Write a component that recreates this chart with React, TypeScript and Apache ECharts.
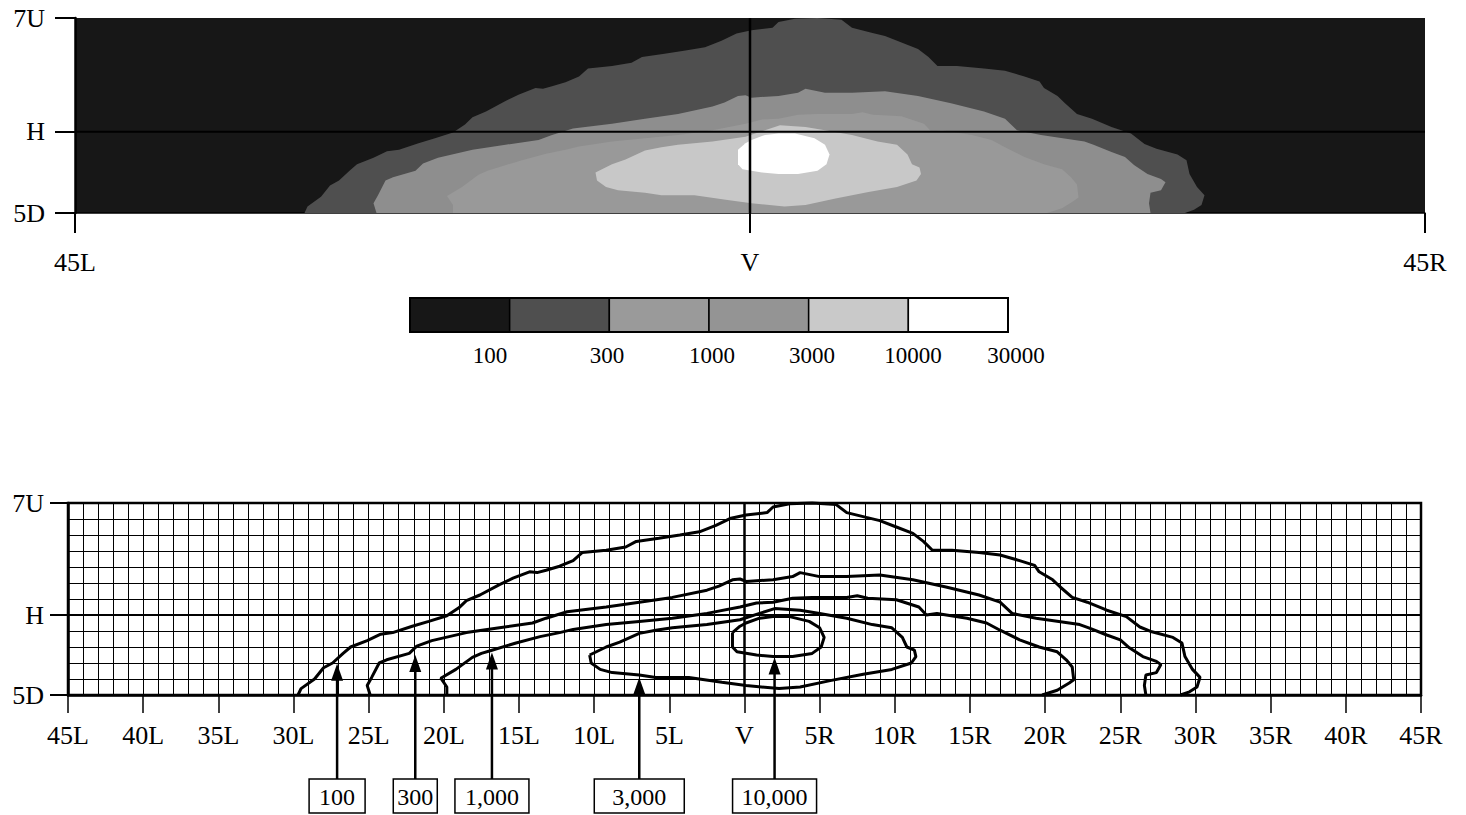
import React, { useEffect, useRef } from 'react';
import * as echarts from 'echarts';

const FONT = 'Liberation Serif';

// Isocandela contours: x in degrees (L negative, R positive), y in degrees (U positive, D negative)
const CONTOUR_100: number[][] = [
  [-29.7, -5], [-29.5, -4.6], [-28.6, -4.0], [-28.0, -3.3], [-27.4, -3.0], [-26.7, -2.4], [-26.2, -2.0],
  [-25.1, -1.6], [-24.2, -1.2], [-23.4, -1.1], [-22.1, -0.7], [-21.0, -0.4], [-19.8, -0.05], [-19.0, 0.45],
  [-18.5, 0.9], [-17.6, 1.25], [-16.3, 1.9], [-15.4, 2.3], [-14.3, 2.7], [-13.8, 2.65], [-13.2, 2.8],
  [-12.3, 3.05], [-11.4, 3.4], [-10.8, 3.9], [-9.2, 4.05], [-7.9, 4.25], [-7.2, 4.6], [-5.7, 4.8],
  [-4.3, 5.0], [-3.0, 5.2], [-1.9, 5.6], [-0.9, 6.05], [0.1, 6.25], [1.5, 6.4], [1.9, 6.75], [3.0, 6.95],
  [4.5, 7.0], [6.1, 6.9], [6.8, 6.4], [8.1, 6.1], [9.0, 5.9], [10.1, 5.5], [11.2, 5.1], [11.9, 4.6],
  [12.5, 4.05], [13.8, 4.05], [15.6, 3.9], [17.0, 3.75], [18.3, 3.4], [19.3, 3.1], [19.6, 2.7], [20.5, 2.2],
  [21.0, 1.75], [21.8, 1.1], [22.8, 0.8], [24.1, 0.3], [25.4, -0.1], [26.3, -0.75], [27.1, -1.05],
  [28.5, -1.4], [29.1, -1.75], [29.3, -2.6], [29.8, -3.4], [30.3, -3.9], [30.1, -4.5], [29.6, -4.8], [29.0, -5],
];
const CONTOUR_300: number[][] = [
  [-24.9, -5], [-25.1, -4.4], [-24.8, -3.9], [-24.3, -3.0], [-23.8, -2.8], [-22.3, -2.4], [-21.8, -1.95],
  [-20.8, -1.6], [-18.5, -1.1], [-16.3, -0.8], [-14.1, -0.5], [-13.2, -0.2], [-11.8, 0.2], [-9.2, 0.5],
  [-7.0, 0.8], [-4.8, 1.1], [-2.5, 1.55], [-1.7, 1.8], [-0.8, 2.2], [-0.3, 2.25], [0.1, 2.1], [1.9, 2.2],
  [3.2, 2.4], [3.7, 2.65], [5.0, 2.4], [6.8, 2.4], [9.0, 2.5], [11.2, 2.2], [13.4, 1.75], [15.6, 1.25],
  [17.0, 0.8], [17.8, 0.1], [19.4, -0.2], [22.3, -0.6], [22.9, -0.8], [24.1, -1.25], [25.0, -1.55],
  [25.6, -2.05], [26.5, -2.6], [27.4, -2.9], [27.7, -3.1], [27.4, -3.6], [26.7, -3.75], [26.6, -4.4], [26.7, -5],
];
const CONTOUR_1000: number[][] = [
  [-19.8, -5], [-19.8, -4.5], [-20.2, -3.95], [-19.2, -3.4], [-18.1, -2.65], [-17.5, -2.4], [-16.8, -2.2],
  [-15.2, -1.75], [-13.6, -1.35], [-12.3, -1.1], [-11.4, -0.9], [-9.2, -0.6], [-7.0, -0.4], [-4.8, -0.2],
  [-2.5, 0.1], [-0.3, 0.5], [0.8, 0.75], [1.9, 0.8], [3.2, 1.05], [4.5, 1.1], [6.8, 1.1], [7.5, 1.2],
  [8.2, 1.05], [10.1, 0.95], [11.6, 0.5], [12.1, 0.0], [12.8, 0.1], [14.8, -0.2], [16.1, -0.5], [17.0, -0.95],
  [18.3, -1.55], [19.6, -2.0], [20.8, -2.3], [21.4, -2.8], [21.8, -3.25], [21.9, -4.05], [21.6, -4.25],
  [20.8, -4.7], [19.8, -5],
];
const CONTOUR_3000: number[][] = [
  [-10.3, -2.5], [-9.2, -2.0], [-8.3, -1.7], [-7.0, -1.15], [-5.9, -0.95], [-4.8, -0.8], [-2.5, -0.6],
  [-0.3, -0.3], [1.0, 0.1], [2.0, 0.4], [3.7, 0.3], [5.0, 0.1], [6.8, -0.2], [8.5, -0.6], [9.8, -0.8],
  [10.5, -1.4], [10.8, -2.0], [11.3, -2.2], [11.4, -2.6], [11.1, -3.0], [9.8, -3.4], [7.9, -3.7],
  [5.7, -4.1], [3.7, -4.5], [2.3, -4.6], [0.1, -4.4], [-1.5, -4.2], [-3.7, -3.9], [-5.9, -3.9],
  [-7.0, -3.75], [-8.8, -3.6], [-9.6, -3.4], [-10.2, -3.0], [-10.3, -2.5],
];
const CONTOUR_10000: number[][] = [
  [-0.8, -1.1], [-0.3, -0.7], [0.1, -0.5], [1.0, -0.2], [1.9, -0.1], [3.0, -0.1], [4.3, -0.4], [5.0, -0.8],
  [5.3, -1.4], [5.1, -2.0], [4.5, -2.4], [3.2, -2.6], [1.9, -2.6], [0.8, -2.5], [-0.5, -2.3], [-0.8, -2.0],
  [-0.8, -1.1],
];

const CONTOURS = [CONTOUR_100, CONTOUR_300, CONTOUR_1000, CONTOUR_3000, CONTOUR_10000];
const CONTOUR_LABELS = ['100', '300', '1,000', '3,000', '10,000'];

// Arrow callouts (x position, arrow tip y) in degrees
const ARROW_X = [-27.1, -21.9, -16.8, -7.0, 2.0];
const ARROW_TIP_Y = [-3.05, -2.5, -2.35, -3.9, -2.65];

// Legend
const LEGEND_LABELS = ['100', '300', '1000', '3000', '10000', '30000'];

// Styles
const BG_COLOR = '#171717';
const FILL_COLORS = ['#4f4f4f', '#8e8e8e', '#999999', '#c8c8c8', '#ffffff'];
const LEGEND_COLORS = ['#171717', '#4f4f4f', '#9a9a9a', '#949494', '#c9c9c9', '#ffffff'];
const ARROW_BOX_W = [56, 44, 74, 90, 84];
const LEGEND_LABEL_CX = [490, 607, 712, 812, 913, 1016];

const xFmt = (v: number) => (v < 0 ? `${-v}L` : v === 0 ? 'V' : `${v}R`);
const yFmt = (v: number) => (v === 7 ? '7U' : v === 0 ? 'H' : v === -5 ? '5D' : '');

export default function App() {
  const ref = useRef<HTMLDivElement>(null);

  useEffect(() => {
    if (!ref.current) return;
    const chart = echarts.init(ref.current, undefined, { renderer: 'svg' });

    const labelStyle = { fontSize: 26, fontFamily: FONT, color: '#000' };
    const black = { color: '#000' };

    const legendX0 = 410;
    const legendW = 598;
    const cellW = legendW / LEGEND_COLORS.length;
    const legendY = 298;
    const legendH = 34;

    const legendChildren: any[] = [];
    LEGEND_COLORS.forEach((c, i) => {
      legendChildren.push({
        type: 'rect',
        shape: { x: legendX0 + i * cellW, y: legendY, width: cellW, height: legendH },
        style: { fill: c, stroke: '#000', lineWidth: 1.5 },
      });
    });
    legendChildren.push({
      type: 'rect',
      shape: { x: legendX0, y: legendY, width: legendW, height: legendH },
      style: { fill: 'none', stroke: '#000', lineWidth: 2 },
    });
    LEGEND_LABELS.forEach((t, i) => {
      legendChildren.push({
        type: 'text',
        style: {
          text: t, x: LEGEND_LABEL_CX[i], y: 355,
          align: 'center', verticalAlign: 'middle', textAlign: 'center', textVerticalAlign: 'middle',
          fontSize: 23, fontFamily: FONT, fill: '#000',
        },
      });
    });

    const lineSeries = (data: number[][], idx: number, width: number, z = 5) => ({
      type: 'line',
      xAxisIndex: idx,
      yAxisIndex: idx,
      data,
      symbol: 'none',
      showSymbol: false,
      silent: true,
      clip: false,
      z,
      lineStyle: { color: '#000', width },
      emphasis: { disabled: true },
    });

    const option: any = {
      animation: false,
      backgroundColor: '#fff',
      grid: [
        { left: 75, right: 41, top: 18, height: 195, show: true, backgroundColor: BG_COLOR, borderWidth: 0 },
        { left: 68, right: 45, top: 503, height: 192, show: true, backgroundColor: '#fff', borderColor: '#000', borderWidth: 2.5 },
      ],
      xAxis: [
        {
          gridIndex: 0, type: 'value', min: -45, max: 45, interval: 45,
          axisLine: { show: true, onZero: false, lineStyle: { ...black, width: 1.5 } },
          axisTick: { show: true, length: 20, lineStyle: { ...black, width: 2 } },
          axisLabel: { ...labelStyle, formatter: xFmt, margin: 36 },
          splitLine: { show: false },
        },
        {
          gridIndex: 1, type: 'value', min: -45, max: 45, interval: 5,
          axisLine: { show: true, onZero: false, lineStyle: { ...black, width: 2.5 } },
          axisTick: { show: true, length: 18, lineStyle: { ...black, width: 1.5 } },
          axisLabel: { ...labelStyle, formatter: xFmt, margin: 27 },
          splitLine: { show: true, lineStyle: { ...black, width: 1 } },
          minorTick: { show: false, splitNumber: 5 },
          minorSplitLine: { show: true, lineStyle: { ...black, width: 1 } },
        },
      ],
      yAxis: [
        {
          gridIndex: 0, type: 'value', min: -5, max: 7, interval: 1,
          axisLine: { show: true, onZero: false, lineStyle: { ...black, width: 2.5 } },
          axisTick: { show: true, length: 20, customValues: [-5, 0, 7], lineStyle: { ...black, width: 2 } },
          axisLabel: { ...labelStyle, formatter: yFmt, customValues: [-5, 0, 7], margin: 30 },
          splitLine: { show: false },
        },
        {
          gridIndex: 1, type: 'value', min: -5, max: 7, interval: 1,
          axisLine: { show: true, onZero: false, lineStyle: { ...black, width: 2.5 } },
          axisTick: { show: true, length: 18, customValues: [-5, 0, 7], lineStyle: { ...black, width: 2 } },
          axisLabel: { ...labelStyle, formatter: yFmt, customValues: [-5, 0, 7], margin: 24 },
          splitLine: { show: false },
        },
        {
          gridIndex: 1, type: 'value', min: -5, max: 7, interval: 1, position: 'left',
          axisLine: { show: false },
          axisTick: { show: false },
          axisLabel: { show: false },
          splitLine: { show: true, lineStyle: { ...black, width: 1 } },
        },
      ],
      graphic: [{ type: 'group', children: legendChildren }],
      series: [
        {
          type: 'custom',
          xAxisIndex: 0,
          yAxisIndex: 0,
          silent: true,
          z: 2,
          data: CONTOURS.map((_, i) => [i]),
          renderItem: (params: any, api: any) => {
            const pts = CONTOURS[params.dataIndex].map((p) => api.coord(p));
            return {
              type: 'polygon',
              shape: { points: pts },
              style: { fill: FILL_COLORS[params.dataIndex], stroke: 'none' },
            };
          },
        },
        lineSeries([[-45, 0], [45, 0]], 0, 2, 6),
        lineSeries([[0, -5], [0, 7]], 0, 2.5, 6),
        ...CONTOURS.map((c) => lineSeries(c, 1, 3, 5)),
        lineSeries([[-45, 0], [45, 0]], 1, 2.2, 4),
        lineSeries([[0, -5], [0, 7]], 1, 2.5, 4),
        {
          type: 'custom',
          xAxisIndex: 1,
          yAxisIndex: 1,
          silent: true,
          clip: false,
          z: 7,
          data: ARROW_X.map((x, i) => [x, ARROW_TIP_Y[i]]),
          renderItem: (params: any, api: any) => {
            const i = params.dataIndex;
            const tip = api.coord([api.value(0), api.value(1)]);
            const base = api.coord([api.value(0), -5]);
            const boxTop = base[1] + 84;
            const boxH = 34;
            const w = ARROW_BOX_W[i];
            return {
              type: 'group',
              children: [
                { type: 'line', shape: { x1: tip[0], y1: tip[1] + 12, x2: tip[0], y2: boxTop }, style: { stroke: '#000', lineWidth: 2.5 } },
                { type: 'polygon', shape: { points: [[tip[0], tip[1]], [tip[0] - 6, tip[1] + 17], [tip[0] + 6, tip[1] + 17]] }, style: { fill: '#000' } },
                { type: 'rect', shape: { x: tip[0] - w / 2, y: boxTop, width: w, height: boxH }, style: { fill: '#fff', stroke: '#000', lineWidth: 1.5 } },
                {
                  type: 'text',
                  style: {
                    text: CONTOUR_LABELS[i], x: tip[0], y: boxTop + boxH / 2 + 1,
                    align: 'center', verticalAlign: 'middle', fontSize: 24, fontFamily: FONT, fill: '#000',
                  },
                },
              ],
            };
          },
        },
      ],
    };

    chart.setOption(option);
    return () => chart.dispose();
  }, []);

  return (
    <div
      ref={ref}
      style={{ position: 'absolute', left: 0, top: 0, width: 1466, height: 815, background: '#fff' }}
    />
  );
}
